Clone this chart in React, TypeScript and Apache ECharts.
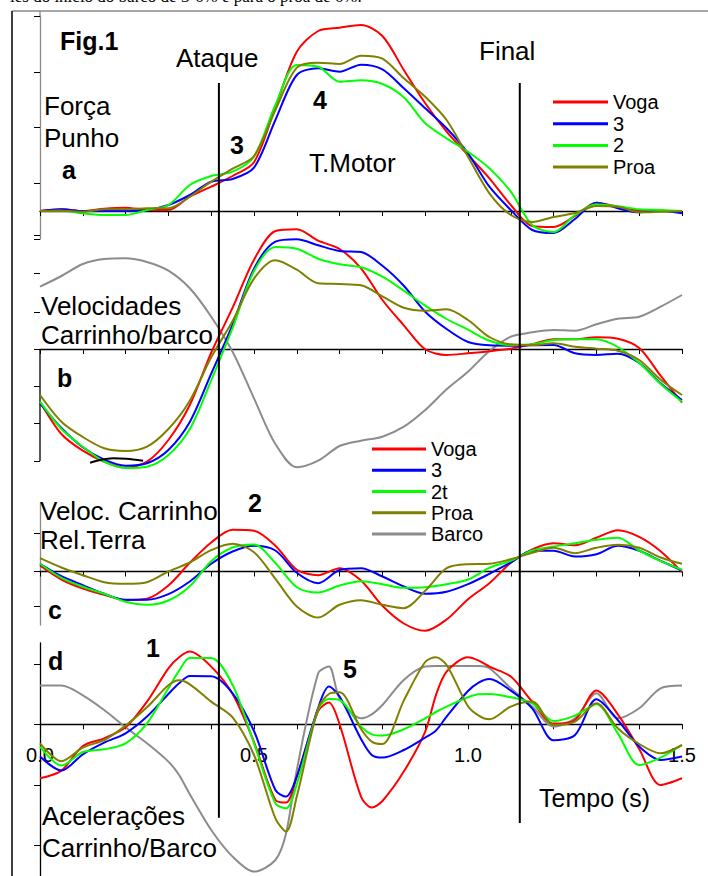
import React, { useEffect, useRef } from 'react';
import * as echarts from 'echarts';

// time samples (s)
const T = [0, 0.05, 0.1, 0.15, 0.2, 0.25, 0.3, 0.35, 0.4, 0.45, 0.5, 0.55, 0.6, 0.65, 0.7, 0.75, 0.8, 0.85, 0.9, 0.95, 1.0, 1.05, 1.1, 1.15, 1.2, 1.25, 1.3, 1.35, 1.4, 1.45, 1.5];
const TD = [0, 0.05, 0.1, 0.15, 0.2, 0.25, 0.3, 0.325, 0.35, 0.4, 0.45, 0.5, 0.55, 0.575, 0.6, 0.65, 0.675, 0.7, 0.75, 0.775, 0.8, 0.85, 0.9, 0.925, 0.95, 1.0, 1.025, 1.05, 1.1, 1.15, 1.2, 1.25, 1.3, 1.35, 1.4, 1.45, 1.5];

// a) Força Punho
const forcaVoga = [0, 1.7, 0, 2.3, 3.3, 1, 1, 14.3, 24.3, 35, 48.7, 103.7, 159.3, 180, 183.3, 186, 175, 141, 107.7, 79.3, 56, 32.7, 6, -15, -16, -5, 8.3, 4.3, 0.3, 0.3, -0.7];
const forca3 = [0, 1.7, 0, 0, 0, 1, 6, 16, 29.3, 32, 43.3, 91, 136, 142.7, 139.3, 146.3, 141.7, 122.7, 102.7, 82.7, 57.7, 24.3, 1, -19, -22, -8, 8.3, 2.7, -1.3, 0.3, -2.3];
const forca2 = [0, 0.3, -2.3, -4, -4, 1, 6, 26, 35, 39.3, 54.3, 106, 146, 144.3, 129.3, 130.7, 127, 113.7, 87.7, 72.7, 59.3, 42.7, 19.3, -14, -21, -4, 6.7, 4.7, 1.7, 1, 0];
const forcaProa = [0, 0.3, -0.7, 1.7, 1.7, 2.7, 2.7, 14.3, 29.3, 42.3, 55, 101, 143.3, 148.3, 147, 155.3, 152.3, 132.7, 114.3, 91, 54.3, 17.7, -4, -11, -6, -2, 5, 4.3, -1.3, -0.7, 0];

// b) Velocidades Carrinho/barco
const velVoga = [-52.7, -85, -101.7, -112.7, -118.7, -112.7, -91, -56, -3.7, 41.3, 89.3, 118, 119.7, 108.3, 100, 80.7, 49, 23.7, -0.3, -6, -4.3, -2.3, 0.3, 4.7, 9.7, 9.7, 11.7, 10.3, 1, -26.7, -53.7];
const vel3 = [-54.3, -79, -98.3, -110.7, -116.7, -114.3, -101, -73, -24.7, 24.3, 80.3, 107.3, 109.7, 103.7, 98, 97, 83.3, 63.3, 37.3, 20, 7, 3.7, 3.3, 3.7, 4, -4.3, -6, -4.7, -14, -34.3, -51];
const vel2t = [-52.7, -80, -97.7, -112.7, -119, -117.7, -106, -80, -31.3, 21, 78, 102, 100.3, 90.3, 84.7, 81.7, 72.3, 58.3, 43.3, 30, 19.3, 8.3, 4, 4.7, 9, 9.7, 9.7, 2, -14, -35, -52.7];
const velProa = [-46, -72.7, -88, -99.3, -102, -97.7, -80, -51.7, -8.3, 28, 70.3, 88.7, 79.3, 65.7, 65, 63.7, 52.7, 41.3, 38.3, 39.7, 29, 12, 4.7, 4, 5.7, 2.3, 0.3, -1.7, -11, -30.7, -46];
const velBarco = [62.3, 73, 85, 90, 90.7, 87, 78.3, 60.7, 32.3, -2.7, -49.3, -95, -118.3, -111.7, -97, -91.7, -87.7, -77.7, -61, -40.3, -22.7, -2, 12.3, 16.7, 19, 18.3, 24.7, 30.3, 32.3, 42.3, 54];
const marcaT = [0.117, 0.14, 0.171, 0.202, 0.241];
const marcaV = [-113.7, -111, -109.3, -109.7, -111.7];

// c) Veloc. Carrinho Rel.Terra
const terraVoga = [6, -8, -17, -23.3, -28.7, -27.3, -14, 8.7, 29, 41.7, 40.7, 25.7, 1.7, -3.7, 3.3, -9, -34.3, -52, -59.3, -48, -27.7, -11.7, 8.7, 22, 28.3, 26.3, 33.7, 41.3, 34.7, 20.3, -0.7];
const terra3 = [7.7, -4.7, -13.7, -22.3, -28.3, -28.3, -22.7, -10, 7.7, 20, 25.7, 21, -1.3, -11.7, 1.5, 3.3, -5, -15, -22.3, -20.3, -12.7, -2.3, 9, 20.7, 20.7, 15, 17.3, 25.7, 20.7, 10.7, 1];
const terra2t = [7.7, -6.3, -15.3, -22.3, -30.3, -33.3, -29, -14.7, 10.3, 24, 27, 8.5, -15.7, -21, -14, -9.7, -12.7, -16.3, -15.7, -12.7, -8, 3.7, 10.7, 21, 25, 28.3, 31.7, 33.7, 21, 10.3, 1.7];
const terraProa = [13.3, 4, -3.7, -10.7, -12.3, -10.7, 0, 9, 21.3, 27.7, 19.3, -7.3, -35, -46, -33.3, -28.7, -33.3, -36.7, -19.3, 3.3, 7.3, 7.7, 12.3, 18.7, 23.7, 18.3, 23.7, 26.7, 23.7, 14, 7.7];

// d) Acelerações Carrinho/Barco
const acelVoga = [-54, -46.3, -21.7, -14, -3, 22.7, 56, 67, 72.7, 57.7, 30.3, -17.7, -75.7, -78.3, -52.3, 13.3, 21.7, 0, -72.3, -83.3, -76.7, -47.3, -7.3, 29, 52.7, 67, 63.7, 57.7, 47.7, 22.7, 0.7, 4.3, 33.7, 10, -24.7, -60.7, -54];
const acel3 = [-32.3, -46.3, -30, -18.3, -9, 7.7, 30.3, 41, 48.3, 48, 31, -6.7, -65.7, -72.3, -52.3, 16.7, 37.7, 27.7, -14.7, -30.7, -33.3, -25.7, -13.3, -6.3, 7.7, 33.3, 41.7, 45.3, 33.7, 16, -16, -10.7, 25, 4.3, -22.3, -35.7, -32.3];
const acel2t = [-22.3, -41.3, -27.7, -25, -19, 1, 36, 53.7, 66.3, 66.3, 39.3, -19, -79, -84, -60, 15, 25.3, 24.3, -2.3, -10, -11.3, -5, 6, 12.3, 17.7, 27, 30, 30.3, 27, 21, 3.3, 8.7, 20, -9, -40.7, -33.3, -20.7];
const acelProa = [-19, -37, -23.3, -15.7, -1.3, 17, 39, 44, 40, 22.7, 7, -30.7, -94, -107.3, -72.3, 16, 30.3, 32, -4.7, -17.3, -19.7, 23.7, 62.3, 67, 59.3, 18, 8.7, 5, 17.7, 22.7, -0.7, 2.7, 21, -4, -19.7, -29, -20.7];
const acelBarco = [38.7, 38.7, 29, 14.3, -3, -19, -37.3, -50.7, -70, -105.7, -132.3, -147.3, -135.7, -109, -45.7, 51, 57.7, 26, 6, 10, 19.3, 44.3, 57.7, 58.3, 58.3, 58.3, 58.3, 56, 36, 17.7, -2.3, 6, 31, 6, 16, 36, 38.7];

// phase markers
const phaseTimes = [0.418, 1.121];
const phaseStart = [0.007, 0];

const xTickLabels = ['0.0', '0.5', '1.0', '1.5'];

const legendA = ['Voga', '3', '2', 'Proa'];
const legendB = ['Voga', '3', '2t', 'Proa', 'Barco'];

const RED = '#ff0000';
const BLUE = '#0000ff';
const GREEN = '#00ff00';
const OLIVE = '#808000';
const GRAY = '#8c8c8c';
const FONT = '"Liberation Sans", Arial, Helvetica, sans-serif';

const pairs = (t: number[], v: number[]) => t.map((x, i) => [x, v[i]]);

const line = (name: string, color: string, data: number[][], idx: number, z = 2) => ({
  type: 'line',
  name,
  xAxisIndex: idx,
  yAxisIndex: idx,
  data,
  symbol: 'none',
  showSymbol: false,
  smooth: 0.3,
  clip: false,
  silent: true,
  z,
  lineStyle: { color, width: 2 },
  itemStyle: { color },
});

const txt = (text: string, x: number, y: number, fontSize = 26, bold = false, family = FONT) => ({
  type: 'text',
  x,
  y,
  silent: true,
  z: 50,
  style: {
    text,
    fill: '#000',
    fontSize,
    fontFamily: family,
    fontWeight: bold ? 'bold' : 'normal',
    align: 'left',
    verticalAlign: 'middle',
    textAlign: 'left',
    textVerticalAlign: 'middle',
  },
});

export default function App() {
  const ref = useRef<HTMLDivElement>(null);
  useEffect(() => {
    if (!ref.current) return;
    const chart = echarts.init(ref.current, null, { renderer: 'svg' });

    const g = { left: 40, right: 26, containLabel: false, outerBoundsMode: 'none' };
    const grids = [
      { ...g, top: 16, height: 223 },
      { ...g, top: 235, height: 226 },
      { ...g, top: 503, height: 122 },
      { ...g, top: 643, height: 233 },
      { ...g, top: 83, height: 740 },
    ];
    const yCfg = [
      { min: -28, max: 195, ticks: [-28, 28, 84, 139, 195], color: '#8a8a8a', show: true },
      { min: -112, max: 114, ticks: [-112, -74, -37, 0, 37, 76, 114], color: '#000', show: false },
      { min: -53.5, max: 68.5, ticks: [-35, 0, 38], color: '#8a8a8a', show: true },
      { min: -151.7, max: 81.3, ticks: [-121.4, -61.4, 0, 60], color: '#000', show: true },
    ];

    const xAxis: any[] = [0, 1, 2, 3].map((i) => ({
      type: 'value',
      gridIndex: i,
      min: 0,
      max: 1.5,
      interval: 0.1,
      axisLine: { show: true, onZero: true, lineStyle: { color: '#000', width: 1.3 } },
      axisTick: { show: true, length: 5, lineStyle: { color: '#000', width: 1 } },
      splitLine: { show: false },
      axisLabel: { show: false },
    }));
    // marker grid axis
    xAxis.push({ type: 'value', gridIndex: 4, min: 0, max: 1.5, show: false });
    // tick labels of panel d, placed at its zero line
    xAxis.push({
      type: 'value',
      gridIndex: 3,
      position: 'bottom',
      offset: -151.7,
      min: 0,
      max: 1.5,
      interval: 0.5,
      axisLine: { show: false, onZero: false },
      axisTick: { show: false },
      splitLine: { show: false },
      axisLabel: {
        show: true,
        margin: 21,
        fontSize: 20,
        fontFamily: FONT,
        color: '#000',
        hideOverlap: false,
        formatter: (v: number) => xTickLabels[Math.round(v * 2)] ?? '',
      },
    });

    const yAxis: any[] = yCfg.map((c, i) => ({
      type: 'value',
      gridIndex: i,
      min: c.min,
      max: c.max,
      axisLine: { show: c.show, onZero: false, lineStyle: { color: c.color, width: 1.3 } },
      axisTick: { show: true, length: 6, customValues: c.ticks, lineStyle: { color: '#000', width: 1 } },
      axisLabel: { show: false },
      splitLine: { show: false },
    }));
    yAxis.push({ type: 'value', gridIndex: 4, min: 0, max: 1, show: false });

    const series: any[] = [
      line('Voga', RED, pairs(T, forcaVoga), 0),
      line('3', BLUE, pairs(T, forca3), 0),
      line('2', GREEN, pairs(T, forca2), 0),
      line('Proa', OLIVE, pairs(T, forcaProa), 0),

      line('Barco', GRAY, pairs(T, velBarco), 1),
      line('Voga', RED, pairs(T, velVoga), 1),
      line('3', BLUE, pairs(T, vel3), 1),
      line('2t', GREEN, pairs(T, vel2t), 1),
      line('Proa', OLIVE, pairs(T, velProa), 1),
      line('marca', '#000', pairs(marcaT, marcaV), 1),

      line('Voga', RED, pairs(T, terraVoga), 2),
      line('3', BLUE, pairs(T, terra3), 2),
      line('2t', GREEN, pairs(T, terra2t), 2),
      line('Proa', OLIVE, pairs(T, terraProa), 2),

      line('Barco', GRAY, pairs(TD, acelBarco), 3),
      line('Voga', RED, pairs(TD, acelVoga), 3),
      line('3', BLUE, pairs(TD, acel3), 3),
      line('2t', GREEN, pairs(TD, acel2t), 3),
      line('Proa', OLIVE, pairs(TD, acelProa), 3),
    ];
    phaseTimes.forEach((t, i) => {
      series.push({
        type: 'line',
        name: 'fase' + i,
        xAxisIndex: 4,
        yAxisIndex: 4,
        data: [[t, phaseStart[i]], [t, 1]],
        symbol: 'none',
        silent: true,
        z: 5,
        lineStyle: { color: '#000', width: 2 },
      });
    });

    const legendCommon = {
      orient: 'vertical',
      icon: 'rect',
      itemHeight: 3,
      padding: 0,
      selectedMode: false,
      textStyle: { fontSize: 20, lineHeight: 20, fontFamily: FONT, color: '#000' },
    };

    const graphic: any[] = [
      {
        type: 'line',
        silent: true,
        shape: { x1: 12, y1: 11, x2: 708, y2: 11 },
        style: { stroke: '#8a8a8a', lineWidth: 1.5 },
      },
      {
        type: 'line',
        silent: true,
        shape: { x1: 12, y1: 11, x2: 12, y2: 876 },
        style: { stroke: '#000', lineWidth: 1.5 },
      },
      {
        type: 'line',
        silent: true,
        shape: { x1: 40, y1: 349, x2: 40, y2: 461 },
        style: { stroke: '#000', lineWidth: 1.3 },
      },
      {
        type: 'line',
        silent: true,
        shape: { x1: 40, y1: 11, x2: 40, y2: 16 },
        style: { stroke: '#8a8a8a', lineWidth: 1.3 },
      },
      txt('ies do início do barco de 3-6% e para o proa de 6%.', 10, -3.5, 17, false, '"Liberation Serif", "Times New Roman", serif'),
      txt('Fig.1', 60, 41, 25, true),
      txt('Ataque', 176, 57.5),
      txt('Final', 479, 50.5),
      txt('Força', 44, 106),
      txt('Punho', 44, 137.5),
      txt('a', 62, 170, 25, true),
      txt('3', 230, 144.5, 25, true),
      txt('4', 313, 99.5, 25, true),
      txt('T.Motor', 309, 162.5),
      txt('Velocidades', 41, 306),
      txt('Carrinho/barco', 41, 335),
      txt('b', 57, 378, 25, true),
      txt('Veloc. Carrinho', 40, 511),
      txt('Rel.Terra', 40, 540),
      txt('2', 248, 503, 25, true),
      txt('c', 48, 609.5, 25, true),
      txt('d', 48, 661, 25, true),
      txt('1', 146, 648, 25, true),
      txt('5', 343, 669, 25, true),
      txt('Acelerações', 42, 816),
      txt('Carrinho/Barco', 42, 848),
      txt('Tempo (s)', 539, 798, 25),
    ];

    chart.setOption({
      animation: false,
      backgroundColor: '#ffffff',
      grid: grids,
      xAxis,
      yAxis,
      legend: [
        { ...legendCommon, data: legendA, left: 553, top: 92, itemWidth: 55, itemGap: 1.7 },
        { ...legendCommon, data: legendB, left: 372, top: 439, itemWidth: 54, itemGap: 1.25 },
      ],
      series,
      graphic,
    });
    return () => chart.dispose();
  }, []);
  return <div ref={ref} style={{ position: 'absolute', left: 0, top: 0, width: 708, height: 876, background: '#fff' }} />;
}
